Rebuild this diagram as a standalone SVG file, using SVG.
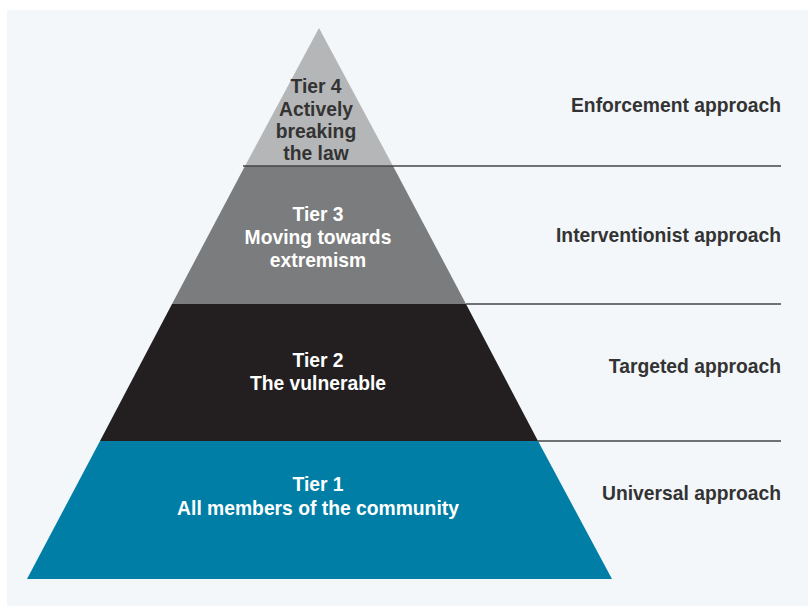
<svg xmlns="http://www.w3.org/2000/svg" width="808" height="606" viewBox="0 0 808 606">
<style>
.t{font-family:"Liberation Sans",Arial,sans-serif;font-weight:bold;font-size:19.3px;text-anchor:middle}
.r{font-family:"Liberation Sans",Arial,sans-serif;font-weight:bold;font-size:19.3px;text-anchor:end;fill:#333}
.w{fill:#ffffff}
.d{fill:#333333}
.ln{stroke:#444;stroke-width:1.5;fill:none}
</style>
<rect x="0" y="0" width="808" height="606" fill="#ffffff"/>
<rect x="7" y="10" width="801" height="596" fill="#f3f7fa"/>
<g id="tier1">
<polygon points="100,441 538,441 612,579 27,579" fill="#007ea6"/>
<text class="t w" x="318" y="491">Tier 1</text>
<text class="t w" x="318" y="515">All members of the community</text>
</g>
<g id="tier2">
<polygon points="172,304 466,304 538,441 100,441" fill="#231f20"/>
<text class="t w" x="318" y="367">Tier 2</text>
<text class="t w" x="318" y="390">The vulnerable</text>
</g>
<g id="tier3">
<polygon points="245,166 393,166 466,304 172,304" fill="#7b7c7d"/>
<text class="t w" x="318" y="221">Tier 3</text>
<text class="t w" x="318" y="244">Moving towards</text>
<text class="t w" x="318" y="267">extremism</text>
</g>
<g id="tier4">
<polygon points="319,28 393,166 245,166" fill="#b5b6b7"/>
<text class="t d" x="316" y="93">Tier 4</text>
<text class="t d" x="316" y="116">Actively</text>
<text class="t d" x="316" y="138">breaking</text>
<text class="t d" x="316" y="160">the law</text>
</g>
<g id="connectors">
<line class="ln" x1="243" y1="166" x2="781" y2="166"/>
<line class="ln" x1="466" y1="304" x2="781" y2="304"/>
<line class="ln" x1="538" y1="441" x2="781" y2="441"/>
</g>
<g id="labels">
<text class="r" x="781" y="112">Enforcement approach</text>
<text class="r" x="781" y="242">Interventionist approach</text>
<text class="r" x="781" y="373">Targeted approach</text>
<text class="r" x="781" y="500">Universal approach</text>
</g>
</svg>
